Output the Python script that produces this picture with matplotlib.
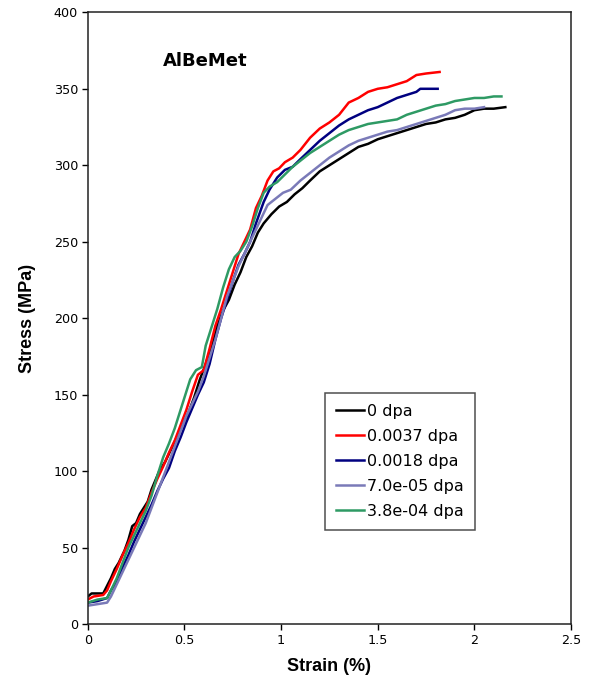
import matplotlib
matplotlib.use("Agg")
import matplotlib.pyplot as plt

# stress-strain curves for each irradiation dose
labels = ['0 dpa', '0.0037 dpa', '0.0018 dpa', '7.0e-05 dpa', '3.8e-04 dpa']
colors = ['#000000', '#ff0000', '#000080', '#7a7ab8', '#2e9a64']

strain_0 = [0, 0.02, 0.08, 0.1, 0.12, 0.14, 0.16, 0.19, 0.21, 0.23, 0.25, 0.27, 0.29, 0.31,
            0.33, 0.35, 0.37, 0.40, 0.43, 0.46, 0.49, 0.52, 0.55, 0.58, 0.61, 0.64, 0.67, 0.70,
            0.73, 0.76, 0.79, 0.82, 0.85, 0.88, 0.91, 0.95, 0.99, 1.03, 1.07, 1.11, 1.15, 1.2,
            1.25, 1.3, 1.35, 1.4, 1.45, 1.5, 1.55, 1.6, 1.65, 1.7, 1.75, 1.8, 1.85, 1.9, 1.95,
            2.0, 2.05, 2.1, 2.16]
stress_0 = [18, 20, 20, 25, 30, 36, 40, 48, 55, 64, 66, 72, 76, 80, 88, 94, 100, 106, 114, 122,
            130, 138, 148, 160, 170, 182, 195, 205, 212, 222, 230, 240, 247, 256, 262, 268, 273,
            276, 281, 285, 290, 296, 300, 304, 308, 312, 314, 317, 319, 321, 323, 325, 327, 328,
            330, 331, 333, 336, 337, 337, 338]

strain_37 = [0, 0.03, 0.08, 0.1, 0.12, 0.15, 0.18, 0.21, 0.24, 0.27, 0.3, 0.33, 0.36, 0.39, 0.42,
             0.45, 0.48, 0.51, 0.54, 0.57, 0.6, 0.63, 0.66, 0.69, 0.72, 0.75, 0.78, 0.81, 0.84,
             0.87, 0.9, 0.93, 0.96, 0.99, 1.02, 1.06, 1.1, 1.15, 1.2, 1.25, 1.3, 1.35, 1.4, 1.45,
             1.5, 1.55, 1.6, 1.65, 1.7, 1.75, 1.82]
stress_37 = [16, 18, 19, 22, 28, 36, 45, 53, 62, 70, 76, 86, 95, 103, 112, 120, 130, 140, 152,
             163, 166, 180, 195, 206, 218, 230, 242, 250, 258, 272, 280, 290, 296, 298, 302, 305,
             310, 318, 324, 328, 333, 341, 344, 348, 350, 351, 353, 355, 359, 360, 361]

strain_18 = [0, 0.05, 0.1, 0.12, 0.15, 0.18, 0.21, 0.24, 0.27, 0.3, 0.33, 0.36, 0.39, 0.42, 0.45,
             0.48, 0.51, 0.54, 0.57, 0.6, 0.63, 0.66, 0.69, 0.72, 0.75, 0.78, 0.81, 0.84, 0.87,
             0.91, 0.94, 0.98, 1.02, 1.06, 1.1, 1.15, 1.2, 1.25, 1.3, 1.35, 1.4, 1.45, 1.5, 1.55,
             1.6, 1.65, 1.7, 1.72, 1.81]
stress_18 = [14, 15, 17, 22, 28, 37, 45, 54, 62, 70, 78, 87, 95, 102, 113, 122, 132, 141, 150,
             158, 170, 186, 200, 212, 224, 235, 242, 250, 262, 276, 284, 292, 297, 299, 304, 310,
             316, 321, 326, 330, 333, 336, 338, 341, 344, 346, 348, 350, 350]

strain_07 = [0, 0.05, 0.1, 0.12, 0.15, 0.18, 0.21, 0.24, 0.27, 0.3, 0.33, 0.36, 0.39, 0.42, 0.45,
             0.48, 0.51, 0.54, 0.57, 0.6, 0.63, 0.66, 0.69, 0.72, 0.75, 0.78, 0.81, 0.84, 0.87,
             0.9, 0.93, 0.97, 1.01, 1.05, 1.1, 1.15, 1.2, 1.25, 1.3, 1.35, 1.4, 1.45, 1.5, 1.55,
             1.6, 1.65, 1.7, 1.75, 1.8, 1.85, 1.9, 1.95, 2.0, 2.05]
stress_07 = [12, 13, 14, 18, 26, 34, 42, 50, 58, 66, 76, 86, 96, 106, 116, 126, 136, 144, 152,
             162, 174, 186, 200, 214, 224, 234, 242, 250, 258, 266, 274, 278, 282, 284, 290, 295,
             300, 305, 309, 313, 316, 318, 320, 322, 323, 325, 327, 329, 331, 333, 336, 337, 337,
             338]

strain_38 = [0, 0.05, 0.1, 0.12, 0.15, 0.18, 0.21, 0.24, 0.27, 0.3, 0.33, 0.36, 0.39, 0.42, 0.45,
             0.48, 0.51, 0.53, 0.56, 0.59, 0.61, 0.64, 0.67, 0.7, 0.73, 0.76, 0.79, 0.82, 0.85,
             0.88, 0.91, 0.94, 0.98, 1.02, 1.06, 1.1, 1.15, 1.2, 1.25, 1.3, 1.35, 1.4, 1.45, 1.5,
             1.55, 1.6, 1.65, 1.7, 1.75, 1.8, 1.85, 1.9, 1.95, 2.0, 2.05, 2.1, 2.14]
stress_38 = [14, 16, 17, 22, 30, 40, 50, 58, 66, 74, 84, 97, 109, 118, 128, 140, 152, 160, 166,
             168, 182, 194, 206, 220, 232, 240, 244, 250, 260, 272, 282, 286, 289, 294, 299, 303,
             308, 312, 316, 320, 323, 325, 327, 328, 329, 330, 333, 335, 337, 339, 340, 342, 343,
             344, 344, 345, 345]

strains = [strain_0, strain_37, strain_18, strain_07, strain_38]
stresses = [stress_0, stress_37, stress_18, stress_07, stress_38]

fig = plt.figure(figsize=(5.93, 6.85), dpi=100)
ax = fig.add_axes([0.148, 0.089, 0.815, 0.893])

for x, y, c, lab in zip(strains, stresses, colors, labels):
    ax.plot(x, y, color=c, lw=1.8, label=lab)

ax.set_xlim(0, 2.5)
ax.set_ylim(0, 400)
ax.set_xticks([0, 0.5, 1, 1.5, 2, 2.5])
ax.set_xticklabels(['0', '0.5', '1', '1.5', '2', '2.5'])
ax.set_yticks(range(0, 401, 50))
ax.tick_params(direction='out', length=4, width=1, labelsize=9.2, pad=3)
for s in ax.spines.values():
    s.set_linewidth(1.1)
    s.set_color('#222222')

bold_narrow = ['Liberation Sans Narrow', 'Liberation Sans', 'DejaVu Sans']
ax.set_xlabel('Strain (%)', family=bold_narrow, fontweight='bold', fontsize=13, labelpad=8)
ax.set_ylabel('Stress (MPa)', family=bold_narrow, fontweight='bold', fontsize=13, labelpad=13)

ax.text(0.39, 368, 'AlBeMet', fontsize=13, fontweight='bold', va='center', ha='left')

leg = ax.legend(loc='upper left', bbox_to_anchor=(0.548, 0.426), bbox_transform=fig.transFigure,
                borderaxespad=0, frameon=True, fancybox=False, fontsize=11.5,
                handlelength=1.8, handletextpad=0.2, labelspacing=0.63,
                borderpad=0.66)
leg.get_frame().set_edgecolor('#222222')
leg.get_frame().set_linewidth(1.1)

fig.savefig('out.png', dpi=100)
